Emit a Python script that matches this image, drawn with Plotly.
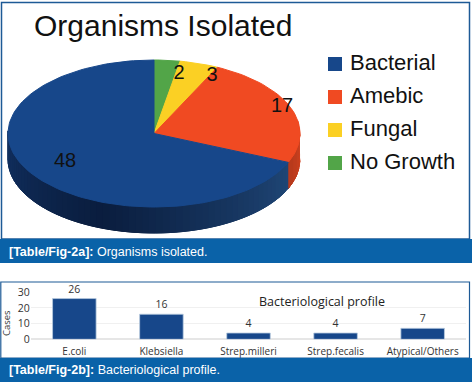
import math
import plotly.graph_objects as go

# ---- data ----
pie_title = "Organisms Isolated"
pie_categories = ["No Growth", "Fungal", "Amebic", "Bacterial"]
pie_values = [2, 3, 17, 48]
legend_order = ["Bacterial", "Amebic", "Fungal", "No Growth"]
bar_title = "Bacteriological profile"
bar_categories = ["E.coli", "Klebsiella", "Strep.milleri", "Strep.fecalis", "Atypical/Others"]
bar_values = [26, 16, 4, 4, 7]
y_ticks = [0, 10, 20, 30]
caption_a = ("[Table/Fig-2a]:", "Organisms isolated.")
caption_b = ("[Table/Fig-2b]:", "Bacteriological profile.")

# ---- style / layout ----
W, H = 472, 382
colors = {"Bacterial": "#17478a", "Amebic": "#f04a22", "Fungal": "#fbd024", "No Growth": "#52a548"}
CX, CY, RX, RY, DEPTH = 154, 133.5, 146, 73.5, 26
FONT = "Liberation Sans"
BARFONT = "Open Sans"
DARK = "#111111"
BAND = "#0a62a8"
FRAME = "#1d5a96"


def pt(deg, dy=0.0):
    a = math.radians(deg)
    return CX + RX * math.sin(a), CY - RY * math.cos(a) + dy


def mix(c1, c2, t):
    a = [int(c1[i:i + 2], 16) for i in (1, 3, 5)]
    b = [int(c2[i:i + 2], 16) for i in (1, 3, 5)]
    return "#" + "".join(f"{round(x + (y - x) * t):02x}" for x, y in zip(a, b))


def poly(xs, ys, color):
    return go.Scatter(x=xs, y=ys, mode="lines", fill="toself", fillcolor=color,
                      line=dict(color=color, width=1), hoverinfo="skip",
                      showlegend=False, xaxis="x", yaxis="y")


def wall(a0, a1, color):
    steps = [a0 + (a1 - a0) * k / 3 for k in range(4)]
    upper = [pt(a) for a in steps]
    lower = [pt(a, DEPTH) for a in reversed(steps)]
    return poly([p[0] for p in upper + lower], [p[1] for p in upper + lower], color)


fig = go.Figure()
total = sum(pie_values)
spans, cum = {}, 0.0
for name, v in zip(pie_categories, pie_values):
    spans[name] = (cum, cum + v / total * 360)
    cum += v / total * 360

# extruded wall (drawn overlapping so no seams show)
s, e = 80, spans["Amebic"][1]
n = 6
for i in range(n):
    fig.add_trace(wall(s + (e - s) * i / n, e, mix("#d8441f", "#b83a1c", i / (n - 1))))
s, e = spans["Bacterial"][0], 272
n = 60
for i in range(n):
    t = (i + 0.5) / n
    col = mix("#1f4676", "#0a1d3e", t / 0.55) if t < 0.55 else mix("#0a1d3e", "#113060", (t - 0.55) / 0.45)
    fig.add_trace(wall(s + (e - s) * i / n, min(e, s + (e - s) * (i + 2) / n), col))

# top face wedges
for name in pie_categories:
    s, e = spans[name]
    n = max(4, int((e - s) / 2))
    pts = [pt(s + (e - s) * i / n) for i in range(n + 1)]
    fig.add_trace(poly([CX] + [p[0] for p in pts] + [CX], [CY] + [p[1] for p in pts] + [CY], colors[name]))

# value labels on the pie
label_x = [179, 212, 282, 65]
label_y = [74, 76, 107, 162]
fig.add_trace(go.Scatter(x=label_x, y=label_y, mode="text", text=[str(v) for v in pie_values],
                         textfont=dict(family=FONT, size=20, color=DARK), hoverinfo="skip",
                         showlegend=False, xaxis="x", yaxis="y"))

# legend
legend_y = [64, 97, 130, 163]
fig.add_trace(go.Scatter(x=[335] * 4, y=legend_y, mode="markers",
                         marker=dict(symbol="square", size=14, color=[colors[n] for n in legend_order]),
                         hoverinfo="skip", showlegend=False, xaxis="x", yaxis="y"))
fig.add_trace(go.Scatter(x=[350] * 4, y=legend_y, mode="text", text=legend_order, textposition="middle right",
                         textfont=dict(family=FONT, size=22, color=DARK), hoverinfo="skip",
                         showlegend=False, xaxis="x", yaxis="y"))

# bar chart
fig.add_trace(go.Bar(x=bar_categories, y=bar_values, xaxis="x2", yaxis="y2", width=0.5,
                     marker=dict(color="#17478a", line=dict(color="#b9cbe0", width=0.8)),
                     text=[str(v) for v in bar_values], textposition="outside", cliponaxis=False,
                     textfont=dict(family=BARFONT, size=10.5, color="#333333"), showlegend=False))


def px(v):
    return v / W


def py(v):
    return 1 - v / H


shapes = [
    dict(type="rect", xref="paper", yref="paper", x0=px(1.5), x1=px(469.5), y0=py(239), y1=py(2.5),
         line=dict(color=FRAME, width=1.5), fillcolor="rgba(0,0,0,0)", layer="above"),
    dict(type="rect", xref="paper", yref="paper", x0=px(0.8), x1=px(469.5), y0=py(358), y1=py(282),
         line=dict(color=FRAME, width=1.2), fillcolor="rgba(0,0,0,0)", layer="above"),
    dict(type="rect", xref="paper", yref="paper", x0=0, x1=1, y0=py(263), y1=py(239),
         line=dict(width=0), fillcolor=BAND, layer="above"),
    dict(type="rect", xref="paper", yref="paper", x0=0, x1=1, y0=0, y1=py(358),
         line=dict(width=0), fillcolor=BAND, layer="above"),
]


def note(x, y, text, **kw):
    font = kw.pop("font")
    return dict(xref="paper", yref="paper", x=px(x), y=py(y), text=text, showarrow=False,
                font=font, xanchor=kw.pop("xanchor", "left"), yanchor="middle", **kw)


annotations = [
    note(32, 25, pie_title, font=dict(family=FONT, size=30, color="#111111")),
    note(7, 251.5, f"<b>{caption_a[0]}</b> {caption_a[1]}", font=dict(family=FONT, size=12.5, color="white")),
    note(7, 370, f"<b>{caption_b[0]}</b> {caption_b[1]}", font=dict(family=FONT, size=12.5, color="white")),
    note(322, 301.5, bar_title, font=dict(family=BARFONT, size=12.5, color="#222222"), xanchor="center"),
    note(6, 323, "Cases", font=dict(family=BARFONT, size=9.5, color="#333333"), xanchor="center", textangle=-90),
]

fig.update_layout(
    width=W, height=H, margin=dict(l=0, r=0, t=0, b=0, pad=0), autosize=False,
    paper_bgcolor="white", plot_bgcolor="rgba(0,0,0,0)",
    shapes=shapes, annotations=annotations, bargap=0.5,
    xaxis=dict(domain=[0, 1], range=[0, W], visible=False, fixedrange=True),
    yaxis=dict(domain=[0, 1], range=[H, 0], visible=False, fixedrange=True),
    xaxis2=dict(domain=[px(30.8), px(466.2)], anchor="y2", type="category", showgrid=False, showline=False,
                ticks="outside", ticklen=3, tickcolor="rgba(0,0,0,0)", automargin=False,
                tickfont=dict(family=BARFONT, size=10, color="#333333")),
    yaxis2=dict(domain=[py(339.3), py(292.3)], range=[0, 30], anchor="x2", tickvals=y_ticks, automargin=False,
                gridcolor="#f0f0f0", gridwidth=1, zeroline=True, zerolinecolor="#e6e6e6", showline=False,
                ticks="", tickfont=dict(family=BARFONT, size=10.5, color="#333333")),
)

fig.write_html("out.html", config={"displayModeBar": False},
               post_script="document.body.style.margin='0';document.documentElement.style.overflow='hidden';")
